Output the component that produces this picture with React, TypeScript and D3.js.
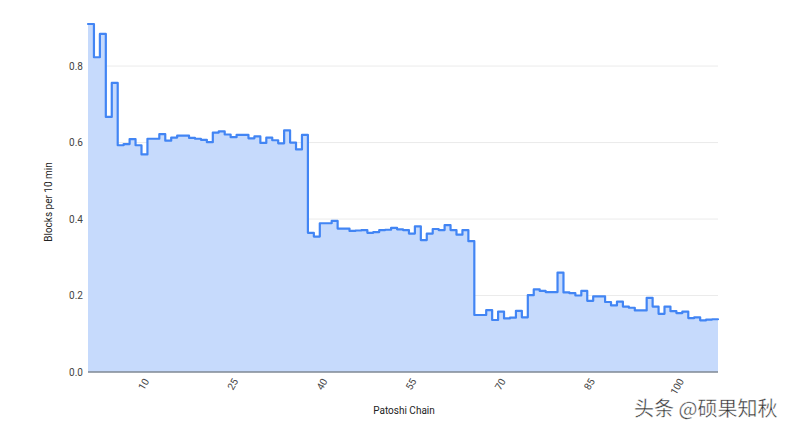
import React from "react";
import * as d3 from "d3";

const categories: number[] = Array.from({ length: 106 }, (_, i) => i + 1);

const values: number[] = [
  0.910, 0.823, 0.884, 0.667, 0.756, 0.593, 0.596, 0.609, 0.593, 0.569,
  0.610, 0.610, 0.622, 0.605, 0.613, 0.618, 0.618, 0.612, 0.610, 0.607,
  0.601, 0.626, 0.629, 0.621, 0.614, 0.620, 0.620, 0.611, 0.616, 0.599,
  0.613, 0.606, 0.598, 0.632, 0.600, 0.582, 0.620, 0.364, 0.354, 0.389,
  0.389, 0.395, 0.375, 0.375, 0.369, 0.370, 0.371, 0.364, 0.366, 0.371,
  0.372, 0.377, 0.373, 0.371, 0.362, 0.381, 0.345, 0.362, 0.374, 0.371,
  0.384, 0.371, 0.359, 0.371, 0.342, 0.149, 0.149, 0.162, 0.136, 0.158,
  0.140, 0.142, 0.160, 0.143, 0.201, 0.216, 0.212, 0.209, 0.209, 0.260,
  0.208, 0.206, 0.200, 0.212, 0.186, 0.198, 0.198, 0.183, 0.174, 0.184,
  0.171, 0.168, 0.161, 0.161, 0.194, 0.171, 0.152, 0.171, 0.159, 0.154,
  0.158, 0.141, 0.143, 0.135, 0.137, 0.138,
];

const xTickLabels: number[] = [10, 25, 40, 55, 70, 85, 100];
const yTicks: number[] = [0, 0.2, 0.4, 0.6, 0.8];

const W = 793;
const H = 433;
const left = 88;
const right = 718;
const top = 24;
const bottom = 372;

export default function App() {
  const x = d3
    .scaleBand<number>()
    .domain(categories)
    .range([left, right])
    .padding(0);
  const y = d3.scaleLinear().domain([0, 0.91]).range([bottom, top]);

  const pts: [number, number][] = categories.map((c, i) => [x(c)!, values[i]]);
  pts.push([right, values[values.length - 1]]);

  const area = d3
    .area<[number, number]>()
    .x((d) => d[0])
    .y0(y(0))
    .y1((d) => y(d[1]))
    .curve(d3.curveStepAfter);
  const line = d3
    .line<[number, number]>()
    .x((d) => d[0])
    .y((d) => y(d[1]))
    .curve(d3.curveStepAfter);

  const font = "Roboto, Arial, sans-serif";

  return (
    <svg
      width={W}
      height={H}
      style={{ position: "absolute", left: 0, top: 0, background: "#fff" }}
    >
      {yTicks
        .filter((t) => t > 0)
        .map((t) => (
          <line
            key={"g" + t}
            x1={left}
            x2={right}
            y1={y(t)}
            y2={y(t)}
            stroke="#ebebeb"
            strokeWidth={1}
          />
        ))}
      <path d={area(pts) || ""} fill="#c6dafc" />
      <path
        d={line(pts) || ""}
        fill="none"
        stroke="#4285f4"
        strokeWidth={2.2}
        strokeLinejoin="round"
        strokeLinecap="round"
      />
      <line
        x1={left}
        x2={right}
        y1={y(0)}
        y2={y(0)}
        stroke="#7f8894"
        strokeWidth={1.5}
      />
      {yTicks.map((t) => (
        <text
          key={"y" + t}
          x={83}
          y={y(t)}
          dy="0.35em"
          textAnchor="end"
          fontFamily={font}
          fontSize={10}
          fill="#444"
        >
          {t.toFixed(1)}
        </text>
      ))}
      {xTickLabels.map((t) => {
        const cx = x(t)! + x.bandwidth() / 2 + 5;
        const cy = 381;
        return (
          <text
            key={"x" + t}
            x={cx}
            y={cy}
            textAnchor="end"
            fontFamily={font}
            fontSize={10}
            fill="#444"
            transform={`rotate(-60 ${cx} ${cy})`}
          >
            {t}
          </text>
        );
      })}
      <text
        x={404}
        y={414}
        textAnchor="middle"
        fontFamily={font}
        fontSize={10}
        fill="#222"
      >
        Patoshi Chain
      </text>
      <text
        transform={`translate(52 202) rotate(-90)`}
        textAnchor="middle"
        fontFamily={font}
        fontSize={10}
        fill="#222"
      >
        Blocks per 10 min
      </text>
      <text
        x={634}
        y={416}
        fontFamily='"Noto Sans CJK SC", sans-serif'
        fontSize={20}
        fill="#333"
        stroke="#fff"
        strokeWidth={0.4}
      >
        头条 @硕果知秋
      </text>
    </svg>
  );
}
